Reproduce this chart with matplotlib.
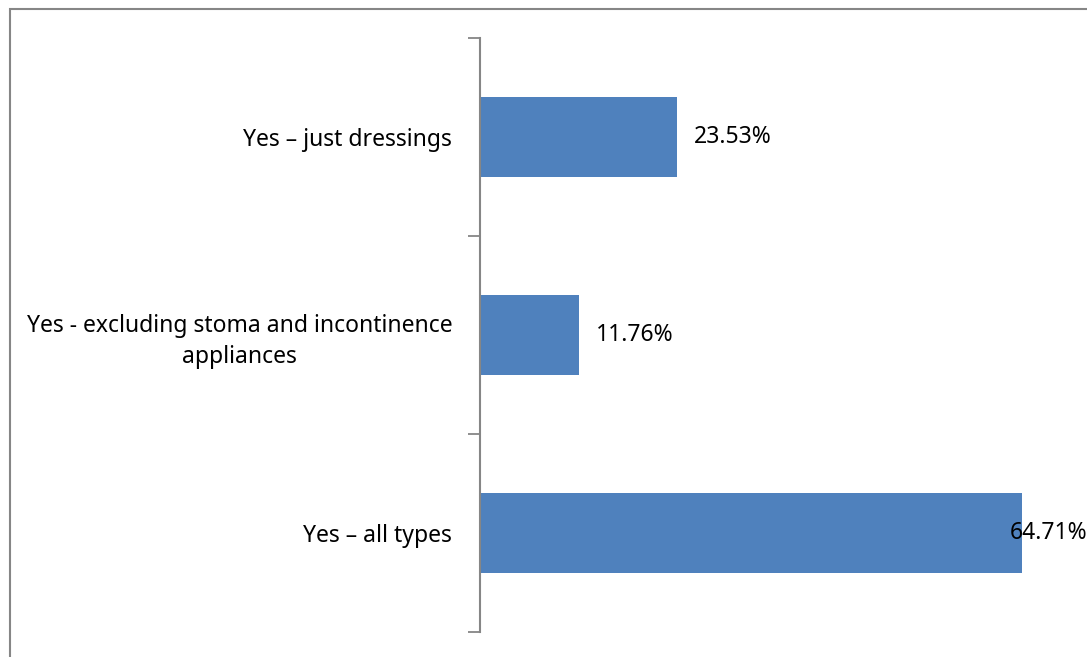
import matplotlib
matplotlib.use("Agg")
import matplotlib.pyplot as plt
from matplotlib.patches import Rectangle

plt.rcParams['font.family'] = ['Noto Sans', 'DejaVu Sans']

categories = ["Yes \u2013 all types",
              "Yes - excluding stoma and incontinence\nappliances",
              "Yes \u2013 just dressings"]
values = [64.71, 11.76, 23.53]
value_labels = ["64.71%", "11.76%", "23.53%"]

W, H = 1087, 657
fs = 16.5
fig = plt.figure(figsize=(W / 100, H / 100), dpi=100)

# chart-area border, running off the right and bottom edges
fig.patches.append(Rectangle((10 / W, -0.1), 1.2, 1 - 9 / H + 0.1,
                             transform=fig.transFigure, fill=False,
                             edgecolor='#868686', linewidth=1.5))

ax = fig.add_axes([480 / W, 1 - 632 / H, (W - 480) / W, 594 / H])
ax.barh(range(len(values)), values, height=0.4, color='#4F81BD')
ax.set_ylim(-0.5, 2.5)
ax.set_xlim(0, (W - 480) / 8.376)

ax.set_yticks([-0.5, 0.5, 1.5, 2.5])
ax.set_yticklabels([])
ax.set_yticks(range(len(categories)), minor=True)
ax.set_yticklabels(categories, minor=True, fontsize=fs, ha='right',
                   multialignment='center', linespacing=1.4)
ax.tick_params(axis='y', which='major', length=9, width=1.3, color='#868686')
ax.tick_params(axis='y', which='minor', length=0, pad=20)
ax.set_xticks([])
for s in ['top', 'right', 'bottom']:
    ax.spines[s].set_visible(False)
ax.spines['left'].set_color('#868686')
ax.spines['left'].set_linewidth(1.5)

xmax = ax.get_xlim()[1]
for i, (v, lab) in enumerate(zip(values, value_labels)):
    x = v + 17 / 8.376
    if x + 80 / 8.376 > xmax:
        ax.text(xmax, i, lab, va='center', ha='right', fontsize=fs, clip_on=False)
    else:
        ax.text(x, i, lab, va='center', ha='left', fontsize=fs)

fig.savefig("out.png", dpi=100)
